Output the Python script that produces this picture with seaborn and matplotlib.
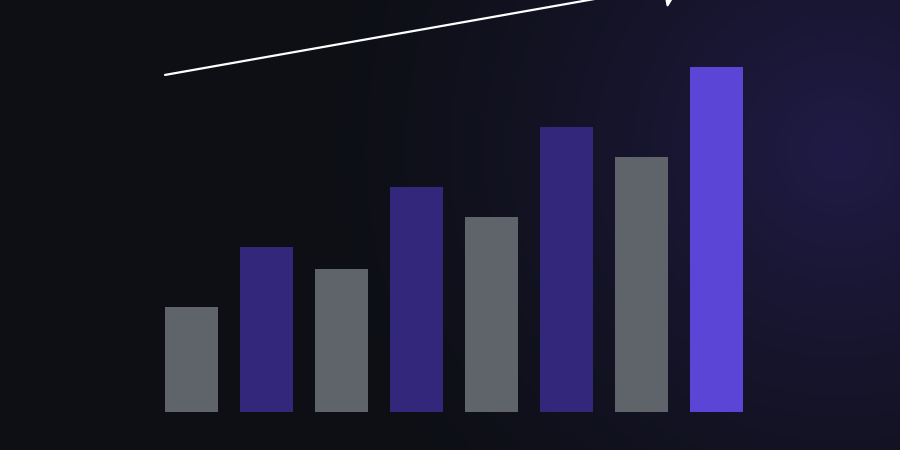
import numpy as np
import pandas as pd
import matplotlib
matplotlib.use("Agg")
import matplotlib.pyplot as plt
import seaborn as sns

categories = ["A", "B", "C", "D", "E", "F", "G", "H"]
values = [30.4, 47.8, 41.4, 65.2, 56.5, 82.6, 73.9, 100]
bar_colors = ["#5f646b", "#32277a", "#5f646b", "#32277a",
              "#5f646b", "#32277a", "#5f646b", "#5a45d6"]
trend_start = (-0.353, 97.7)
trend_end = (6.54, 124.2)

df = pd.DataFrame({"category": categories, "value": values})

sns.set_style("dark")
fig = plt.figure(figsize=(9, 4.5), dpi=100)

# background: dark base with a soft purple glow on the right
bg = fig.add_axes([0, 0, 1, 1])
yy, xx = np.mgrid[0:450, 0:900]
d = np.sqrt((xx - 840) ** 2 + (yy - 150) ** 2)
t = np.clip(1 - d / 560, 0, 1) ** 1.5
base = np.array([13, 15, 20]) / 255
glow = np.array([32, 27, 70]) / 255
img = base[None, None, :] + (glow - base)[None, None, :] * t[..., None]
bg.imshow(img, aspect="auto", extent=[0, 1, 0, 1])
bg.set_axis_off()

ax = fig.add_axes([0, 38 / 450, 1, 412 / 450])
ax.patch.set_alpha(0)
sns.barplot(data=df, x="category", y="value", hue="category",
            palette=bar_colors, legend=False, width=0.707, saturation=1,
            linewidth=0, ax=ax)
ax.set_xlim(-191.5 / 75, (900 - 191.5) / 75)
ax.set_ylim(0, 412 / 3.45)
ax.set_axis_off()

ax.annotate("", xy=trend_end, xytext=trend_start,
            arrowprops=dict(arrowstyle="-|>,head_length=0.35,head_width=0.4",
                            color="white", lw=1.6, mutation_scale=34,
                            shrinkA=0, shrinkB=0),
            annotation_clip=False)

fig.savefig("out.png", dpi=100)
